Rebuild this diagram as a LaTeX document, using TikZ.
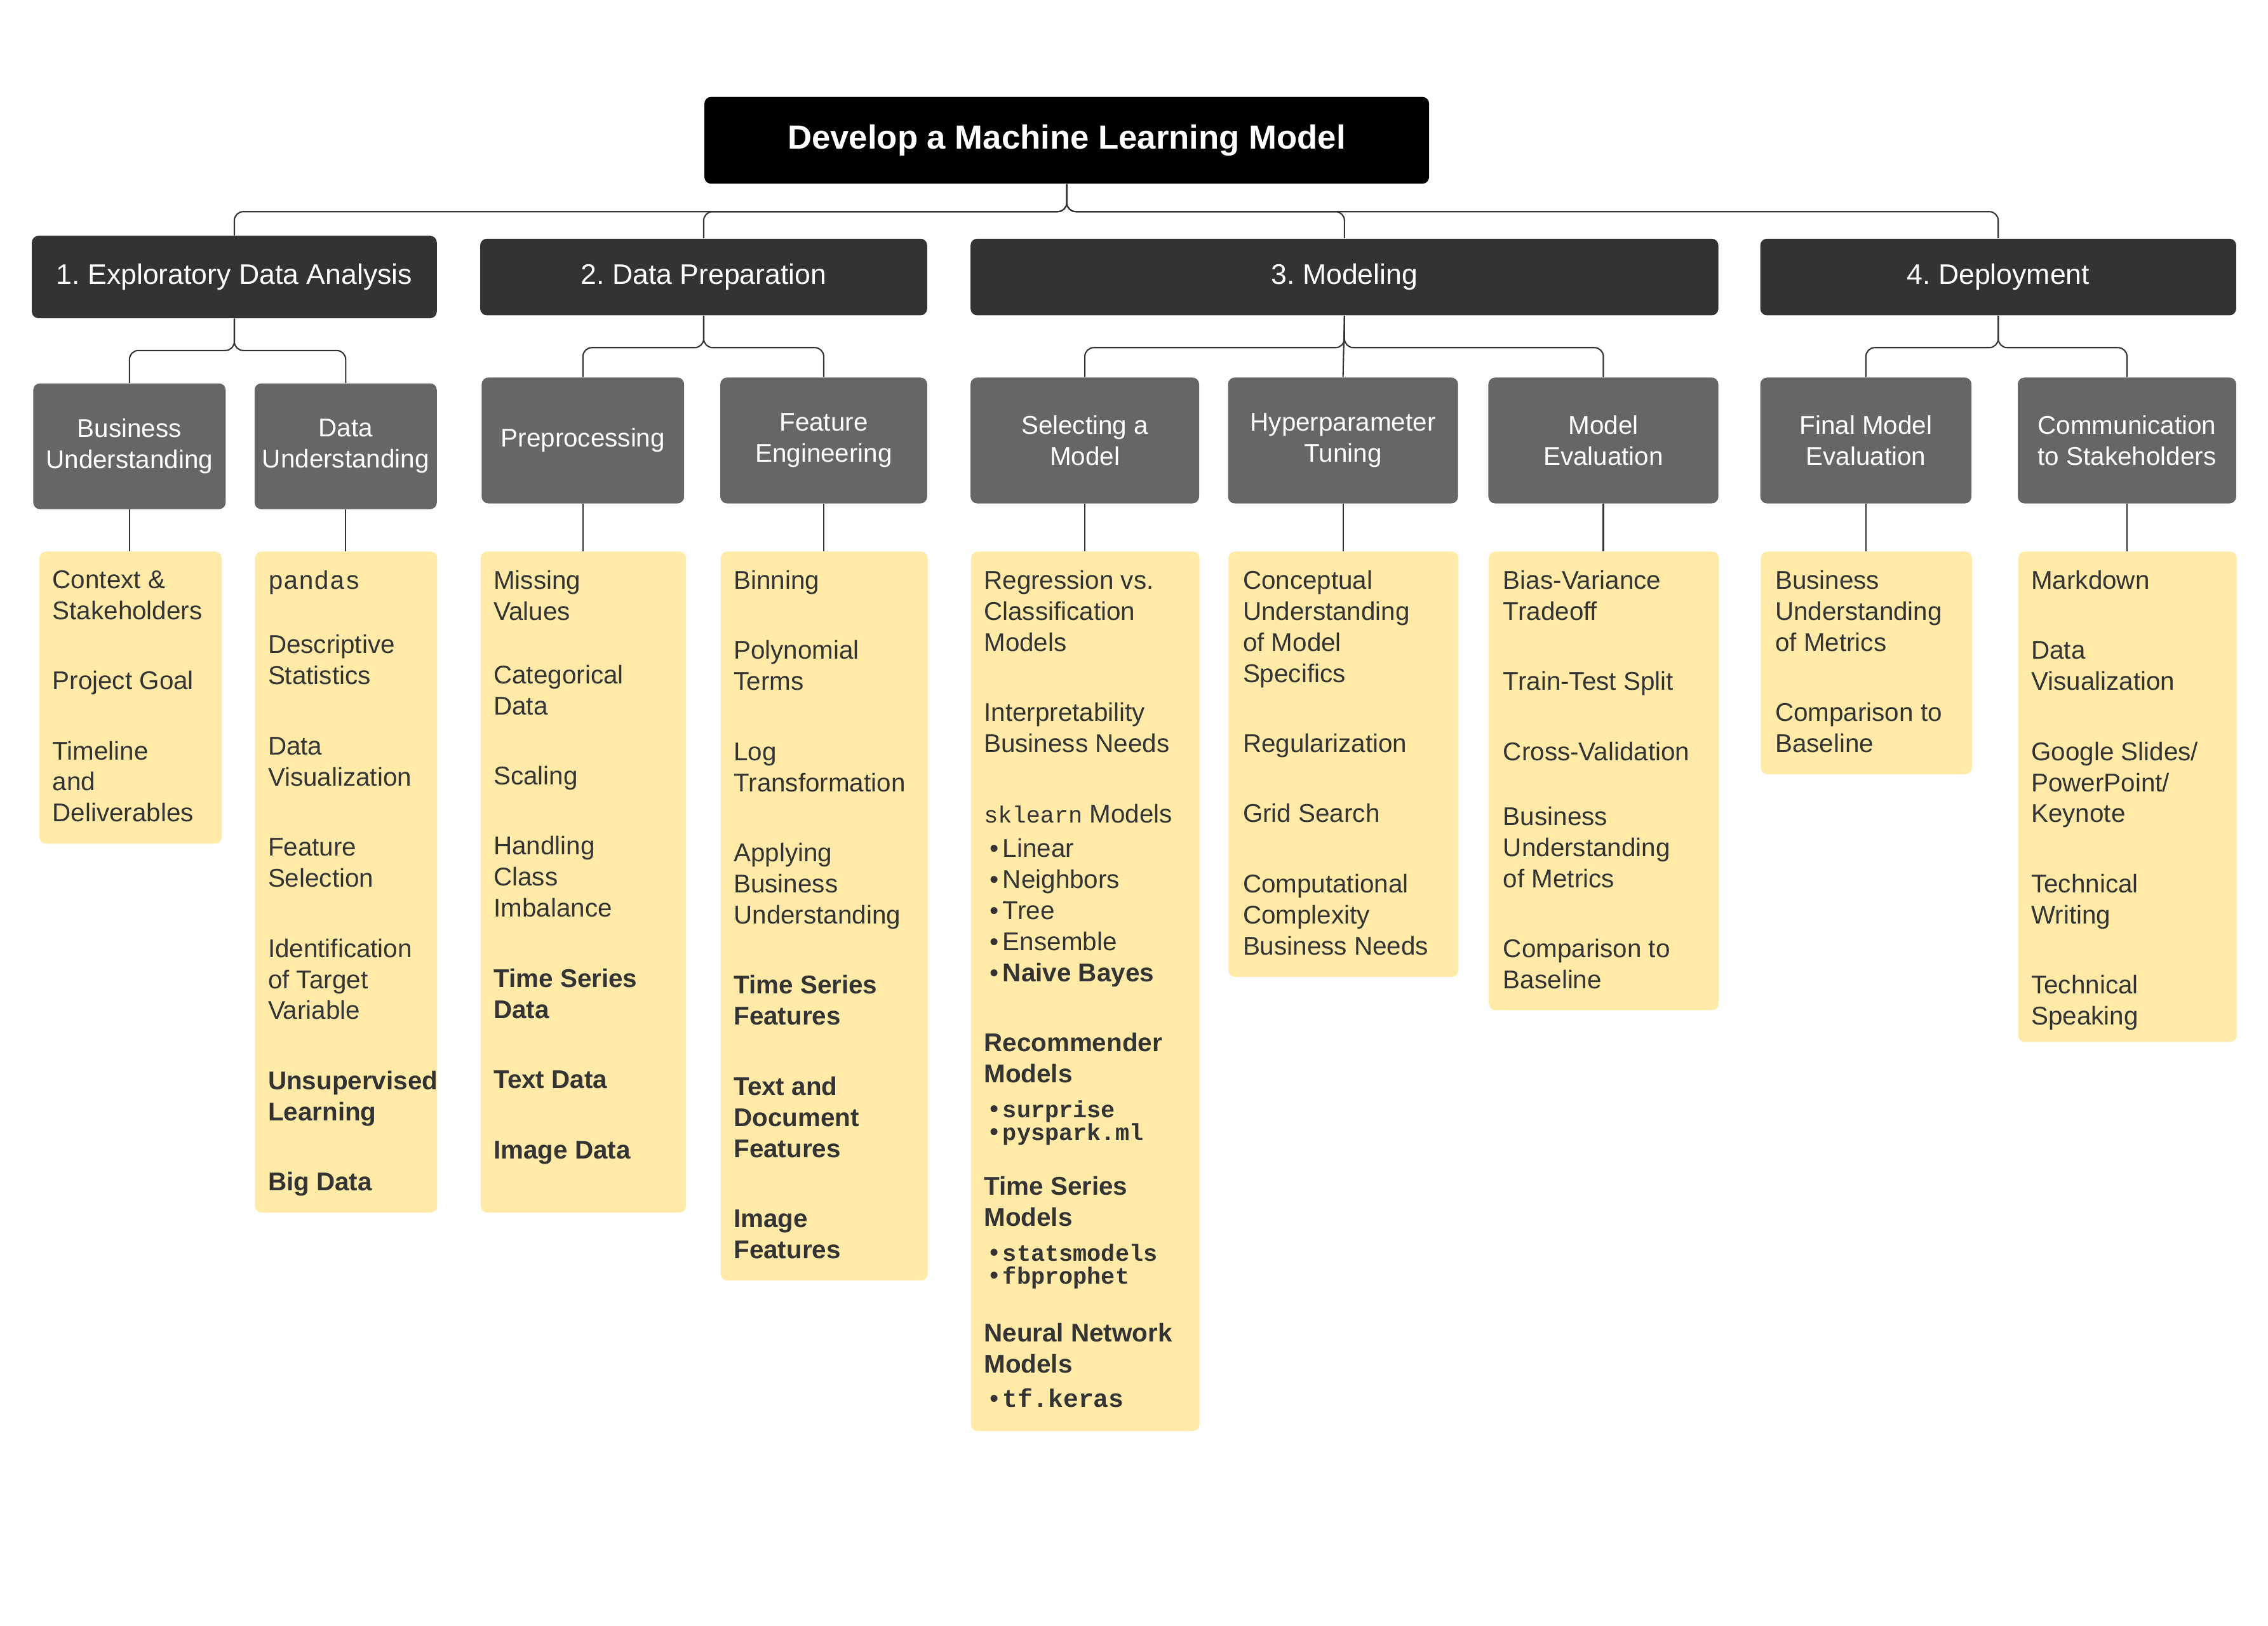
\documentclass[tikz,border=0pt]{standalone}
\usepackage{fontspec}
\setmainfont{Liberation Sans}
\setmonofont{Liberation Mono}
\frenchspacing
\definecolor{phasegray}{HTML}{333333}
\definecolor{taskgray}{HTML}{666666}
\definecolor{noteyellow}{HTML}{FFEAA7}
\definecolor{notetextcolor}{HTML}{333333}
\definecolor{linkgray}{HTML}{333333}
\newcommand{\gap}{\\[17.5pt]}
\newcommand{\itm}{\hspace*{2.6pt}\textbullet\hspace{1.8pt}}
\newcommand{\smallmono}[1]{{\fontsize{10.5}{13.93}\selectfont\ttfamily #1}}
\newcommand{\boldmono}[1]{{\fontsize{10.5}{13.93}\selectfont\ttfamily\bfseries #1}}

\begin{document}
\begin{tikzpicture}[x=0.022774cm, y=-0.022774cm,
  wh/.style 2 args={minimum width=#1*0.022774cm, minimum height=#2*0.022774cm},
  box/.style={rounded corners=3pt, inner sep=0pt, align=center, text=white},
  topbox/.style={box, fill=black, font=\bfseries\fontsize{15}{18}\selectfont},
  phase/.style={box, fill=phasegray, font=\fontsize{12.7}{15.2}\selectfont},
  task/.style={box, fill=taskgray, font=\fontsize{11.5}{13.93}\selectfont},
  notebox/.style={rounded corners=3pt, fill=noteyellow, inner sep=0pt, anchor=north west},
  notetext/.style={anchor=north west, inner sep=0pt, align=left, text=notetextcolor, font=\fontsize{11.5}{13.93}\selectfont},
  link/.style={draw=linkgray, line width=0.6pt, rounded corners=4pt}]
\fill[white] (0,0) rectangle (1568,1124);
\useasboundingbox (0,0) rectangle (1568,1124);

\node[topbox, wh={501}{60}] (root) at (737.5,97) {Develop a Machine Learning Model};

\node[phase, wh={280}{57}] (eda) at (162,191.5) {1. Exploratory Data Analysis};
\node[phase, wh={309}{53}] (prep) at (486.5,191.5) {2. Data Preparation};
\node[phase, wh={517}{53}] (model) at (929.5,191.5) {3. Modeling};
\node[phase, wh={329}{53}] (deploy) at (1381.5,191.5) {4. Deployment};
\draw[link] (root.south) -- ++(0,19) -| (eda.north);
\draw[link] (root.south) -- ++(0,19) -| (prep.north);
\draw[link] (root.south) -- ++(0,19) -| (model.north);
\draw[link] (root.south) -- ++(0,19) -| (deploy.north);

\node[task, wh={133}{87}] (bu) at (89.5,308.5) {Business\\Understanding};
\node[task, wh={126}{87}] (du) at (239,308.5) {Data\\Understanding};
\node[task, wh={140}{87}] (pp) at (403,304.5) {Preprocessing};
\node[task, wh={143}{87}] (fe) at (569.5,304.5) {Feature\\Engineering};
\node[task, wh={158}{87}] (sel) at (750,304.5) {Selecting a\\Model};
\node[task, wh={159}{87}] (hyp) at (928.5,304.5) {Hyperparameter\\Tuning};
\node[task, wh={159}{87}] (eval) at (1108.5,304.5) {Model\\Evaluation};
\node[task, wh={146}{87}] (fin) at (1290,304.5) {Final Model\\Evaluation};
\node[task, wh={151}{87}] (comm) at (1470.5,304.5) {Communication\\to Stakeholders};
\draw[link] (eda.south) -- ++(0,22) -| (bu.north);
\draw[link] (eda.south) -- ++(0,22) -| (du.north);
\draw[link] (prep.south) -- ++(0,22) -| (pp.north);
\draw[link] (prep.south) -- ++(0,22) -| (fe.north);
\draw[link] (model.south) -- ++(0,22) -| (sel.north);
\draw[link] (model.south) -- (hyp.north);
\draw[link] (model.south) -- ++(0,22) -| (eval.north);
\draw[link] (deploy.south) -- ++(0,22) -| (fin.north);
\draw[link] (deploy.south) -- ++(0,22) -| (comm.north);

\node[notebox, wh={126}{202}] (bu-n) at (27,381) {};
\node[notebox, wh={126}{457}] (du-n) at (176,381) {};
\node[notebox, wh={142}{457}] (pp-n) at (332,381) {};
\node[notebox, wh={143}{504}] (fe-n) at (498,381) {};
\node[notebox, wh={158}{608}] (sel-n) at (671,381) {};
\node[notebox, wh={159}{294}] (hyp-n) at (849,381) {};
\node[notebox, wh={159}{317}] (eval-n) at (1029,381) {};
\node[notebox, wh={146}{154}] (fin-n) at (1217,381) {};
\node[notebox, wh={151}{339}] (comm-n) at (1395,381) {};
\foreach \t in {bu,du,pp,fe,sel,hyp,eval,fin,comm}
  \draw[link] (\t.south) -- (\t.south |- \t-n.north);

\node[notetext] (bu-t) at (36,394) {Context \&\\Stakeholders\gap Project Goal\gap Timeline\\and\\Deliverables};
\node[notetext] (du-t) at (185,394) {\texttt{pandas}\\[15pt]Descriptive\\Statistics\gap Data\\Visualization\gap Feature\\Selection\gap
  Identification\\of Target\\Variable\gap \textbf{Unsupervised}\\\textbf{Learning}\gap \textbf{Big Data}};
\node[notetext] (pp-t) at (341,394) {Missing\\Values\\[14.5pt]Categorical\\Data\gap Scaling\gap Handling\\Class\\Imbalance\gap
  \textbf{Time Series}\\\textbf{Data}\gap \textbf{Text Data}\gap \textbf{Image Data}};
\node[notetext] (fe-t) at (507,394) {Binning\gap Polynomial\\Terms\gap Log\\Transformation\gap Applying\\Business\\Understanding\gap
  \textbf{Time Series}\\\textbf{Features}\gap \textbf{Text and}\\\textbf{Document}\\\textbf{Features}\gap \textbf{Image}\\\textbf{Features}};
\node[notetext] (sel-t) at (680,394) {Regression vs.\\Classification\\Models\gap Interpretability\\Business Needs\gap
  \smallmono{sklearn} Models\\[1.6pt]\itm Linear\\\itm Neighbors\\\itm Tree\\\itm Ensemble\\\itm\textbf{Naive Bayes}\gap
  \textbf{Recommender}\\\textbf{Models}\\[1.6pt]\itm\boldmono{surprise}\\[-3.6pt]\itm\boldmono{pyspark.ml}\\[10.6pt]
  \textbf{Time Series}\\\textbf{Models}\\[1.6pt]\itm\boldmono{statsmodels}\\[-3.6pt]\itm\boldmono{fbprophet}\\[11.9pt]
  \textbf{Neural Network}\\\textbf{Models}\\[1.6pt]\itm{\fontsize{11.3}{13.93}\selectfont\ttfamily\bfseries tf.keras}};
\node[notetext] (hyp-t) at (859,394) {Conceptual\\Understanding\\of Model\\Specifics\gap Regularization\gap Grid Search\gap
  Computational\\Complexity\\Business Needs};
\node[notetext] (eval-t) at (1039,394) {Bias-Variance\\Tradeoff\gap Train-Test Split\gap Cross-Validation\\[15.2pt]Business\\Understanding\\of Metrics\gap
  Comparison to\\Baseline};
\node[notetext] (fin-t) at (1227,394) {Business\\Understanding\\of Metrics\gap Comparison to\\Baseline};
\node[notetext] (comm-t) at (1404,394) {Markdown\gap Data\\Visualization\gap Google Slides/\\PowerPoint/\\Keynote\gap
  Technical\\Writing\gap Technical\\Speaking};

\end{tikzpicture}
\end{document}
